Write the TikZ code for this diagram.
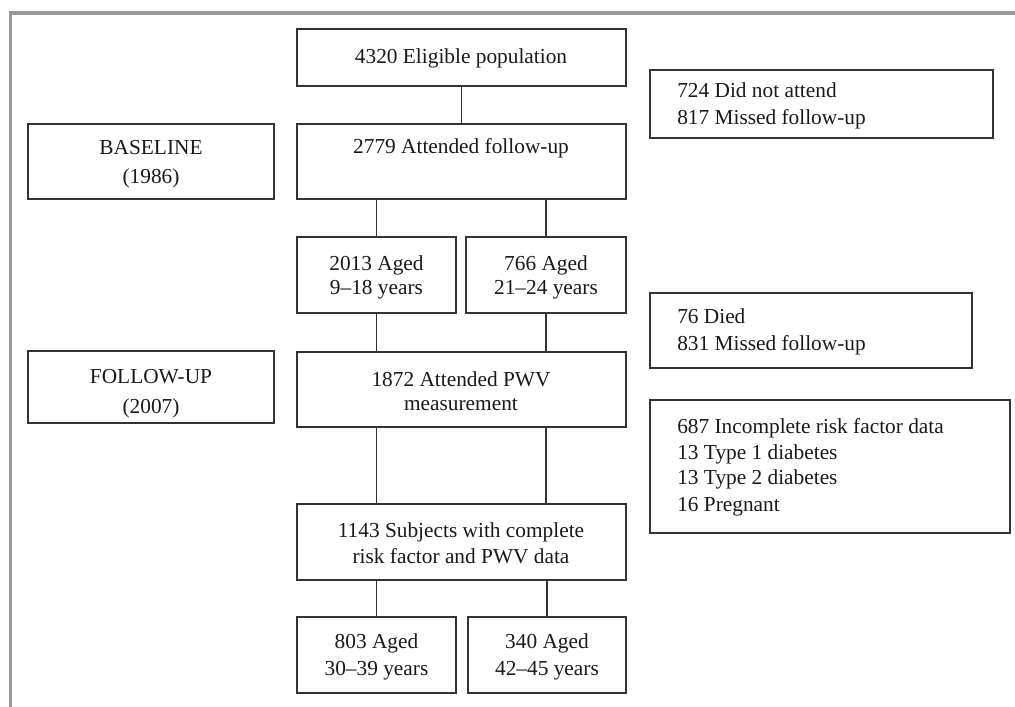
\documentclass[tikz,border=0pt]{standalone}
\usepackage{fontspec}
\setmainfont{Liberation Serif}
\usetikzlibrary{fit}
\begin{document}
\begin{tikzpicture}[x=0.75pt,y=-0.75pt,
  box/.style={draw=black!80, line width=0.85pt, rectangle, inner sep=0pt},
  txt/.style={inner sep=0pt, anchor=base, font=\fontsize{16}{19}\selectfont, text=black!90},
  txtl/.style={txt, anchor=base west},
  link/.style={draw=black!80, line width=0.85pt},
  border/.style={draw=black!40, line width=2.6pt}]
\useasboundingbox (0,0) rectangle (1015,707);
\draw[border] (9,13) -- (1015,13);
\draw[border] (10.5,11.5) -- (10.5,707);

% boxes
\node[box, fit={(297,29) (626,86)}] (elig) {};
\node[box, fit={(297,124) (626,199)}] (att) {};
\node[box, fit={(28,124) (274,199)}] (base) {};
\node[box, fit={(650,70) (993,138)}] (ex1) {};
\node[box, fit={(297,237) (456,313)}] (a2013) {};
\node[box, fit={(466,237) (626,313)}] (a766) {};
\node[box, fit={(650,293) (972,368)}] (ex2) {};
\node[box, fit={(28,351) (274,423)}] (fu) {};
\node[box, fit={(297,352) (626,427)}] (pwv) {};
\node[box, fit={(650,400) (1010,533)}] (ex3) {};
\node[box, fit={(297,504) (626,580)}] (comp) {};
\node[box, fit={(297,617) (456,693)}] (a803) {};
\node[box, fit={(468,617) (626,693)}] (a340) {};

% texts
\node[txt] (t1) at (461,63) {4320 Eligible population};
\node[txt] (t2) at (461,153) {2779 Attended follow-up};
\node[txt] (t3a) at (151,154) {BASELINE};
\node[txt] (t3b) at (151,183) {(1986)};
\node[txtl] (t4a) at (677,97) {724 Did not attend};
\node[txtl] (t4b) at (677,124) {817 Missed follow-up};
\node[txt] (t5a) at (376.5,270) {2013 Aged};
\node[txt] (t5b) at (376.5,294) {9–18 years};
\node[txt] (t6a) at (546,270) {766 Aged};
\node[txt] (t6b) at (546,294) {21–24 years};
\node[txtl] (t7a) at (677,323) {76 Died};
\node[txtl] (t7b) at (677,350) {831 Missed follow-up};
\node[txt] (t8a) at (151,383) {FOLLOW-UP};
\node[txt] (t8b) at (151,413) {(2007)};
\node[txt] (t9a) at (461,386) {1872 Attended PWV};
\node[txt] (t9b) at (461,410) {measurement};
\node[txtl] (t10a) at (677,433) {687 Incomplete risk factor data};
\node[txtl] (t10b) at (677,459) {13 Type 1 diabetes};
\node[txtl] (t10c) at (677,484) {13 Type 2 diabetes};
\node[txtl] (t10d) at (677,511) {16 Pregnant};
\node[txt] (t11a) at (461,537) {1143 Subjects with complete};
\node[txt] (t11b) at (461,563) {risk factor and PWV data};
\node[txt] (t12a) at (376.5,648) {803 Aged};
\node[txt] (t12b) at (376.5,675) {30–39 years};
\node[txt] (t13a) at (547,648) {340 Aged};
\node[txt] (t13b) at (547,675) {42–45 years};

% connectors
\draw[link] (elig.south) -- (att.north);
\draw[link] (a2013.north |- att.south) -- (a2013.north);
\draw[link] (a766.north |- att.south) -- (a766.north);
\draw[link] (a2013.south) -- (a2013.south |- pwv.north);
\draw[link] (a766.south) -- (a766.south |- pwv.north);
\draw[link] (a2013 |- pwv.south) -- (a2013 |- comp.north);
\draw[link] (a766 |- pwv.south) -- (a766 |- comp.north);
\draw[link] (a803.north |- comp.south) -- (a803.north);
\draw[link] (a340.north |- comp.south) -- (a340.north);
\end{tikzpicture}
\end{document}
